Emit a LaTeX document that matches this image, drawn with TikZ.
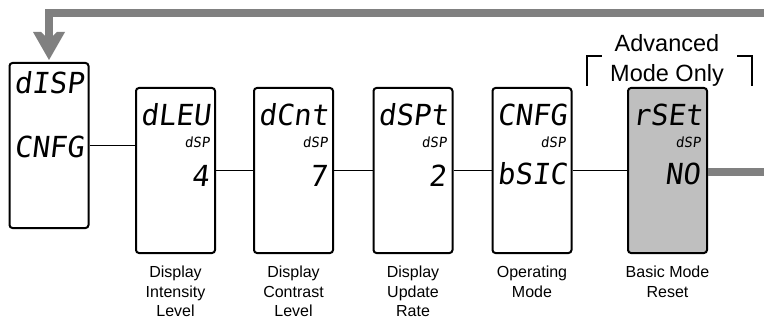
\documentclass[tikz,border=0pt]{standalone}
\usepackage{fontspec}
\setmainfont{Liberation Sans}
\newfontfamily\segfont[FakeSlant=0.12]{DejaVu Sans Mono}
\definecolor{arrowgray}{RGB}{128,128,128}
\definecolor{boxgray}{RGB}{191,191,191}
\tikzset{
  dispbox/.style={draw=black, line width=2pt, rounded corners=3pt, minimum width=79pt, minimum height=165pt, inner sep=0pt},
  bigseg/.style={inner sep=0pt, font=\segfont\fontsize{29}{29}\selectfont},
  smallseg/.style={inner sep=0pt, font=\segfont\fontsize{14}{14}\selectfont},
  caption/.style={inner sep=0pt, align=center, font=\fontsize{16}{19.5}\selectfont, anchor=north},
  link/.style={line width=1.5pt},
  flow/.style={line width=8pt, draw=arrowgray},
  bracketline/.style={line width=2pt}
}
\begin{document}
\begin{tikzpicture}[x=1pt,y=-1pt]
\useasboundingbox (0,0) rectangle (764,321);
% boxes
\node[dispbox, minimum height=165pt] (b1) at (49,145.5) {};
\node[dispbox] (b2) at (175.5,170.5) {};
\node[dispbox] (b3) at (293.5,170.5) {};
\node[dispbox] (b4) at (413,170.5) {};
\node[dispbox] (b5) at (532,170.5) {};
\node[dispbox, fill=boxgray] (b6) at (667.5,170.5) {};
% box 1 texts
\node[bigseg] (t1a) at (49,83) {dISP};
\node[bigseg] (t1b) at (49,147) {CNFG};
% box 2
\node[bigseg] (t2a) at (175.5,115) {dLEU};
\node[smallseg, anchor=east] (t2b) at (210,142) {dSP};
\node[bigseg, anchor=east] (t2c) at (209,176) {4};
% box 3
\node[bigseg] (t3a) at (293.5,115) {dCnt};
\node[smallseg, anchor=east] (t3b) at (328,142) {dSP};
\node[bigseg, anchor=east] (t3c) at (327,176) {7};
% box 4
\node[bigseg] (t4a) at (413,115) {dSPt};
\node[smallseg, anchor=east] (t4b) at (447,142) {dSP};
\node[bigseg, anchor=east] (t4c) at (446,176) {2};
% box 5
\node[bigseg] (t5a) at (532,115) {CNFG};
\node[smallseg, anchor=east] (t5b) at (566,142) {dSP};
\node[bigseg] (t5c) at (532,174) {bSIC};
% box 6
\node[bigseg] (t6a) at (667.5,115) {rSEt};
\node[smallseg, anchor=east] (t6b) at (701,142) {dSP};
\node[bigseg, anchor=east] (t6c) at (700,174) {NO};
% connectors
\draw[link] (b1.east) -- (b2.west |- b1.east);
\draw[link] (b2.east) -- (b3.west);
\draw[link] (b3.east) -- (b4.west);
\draw[link] (b4.east) -- (b5.west);
\draw[link] (b5.east) -- (b6.west);
% captions
\node[caption] (c2) at (175.5,266) {Display\\Intensity\\Level};
\node[caption] (c3) at (293.5,266) {Display\\Contrast\\Level};
\node[caption] (c4) at (413,266) {Display\\Update\\Rate};
\node[caption] (c5) at (532,266) {Operating\\Mode};
\node[caption] (c6) at (667.5,266) {Basic Mode\\Reset};
% advanced mode bracket
\node[inner sep=0pt, align=center, anchor=north, font=\fontsize{23.5}{30}\selectfont] (adv) at (667,34.5) {Advanced\\Mode Only};
\draw[bracketline] (587,86) -- (587,56) -- (602,56);
\draw[bracketline] (737,56) -- (752,56) -- (752,86);
% gray flow lines
\coordinate (tstart) at (764,13);
\coordinate (rend) at (764,171.5);
\coordinate (corner) at (49,13);
\coordinate (shaftend) at (49,38);
\draw[flow] (tstart) -- (corner) -- (shaftend);
\fill[arrowgray] (33,32) -- (41,32) -- (45,36) -- (53,36) -- (57,32) -- (65,32) -- (49,60) -- cycle;
\draw[flow] (b6.east |- rend) -- (rend);
\end{tikzpicture}
\end{document}
